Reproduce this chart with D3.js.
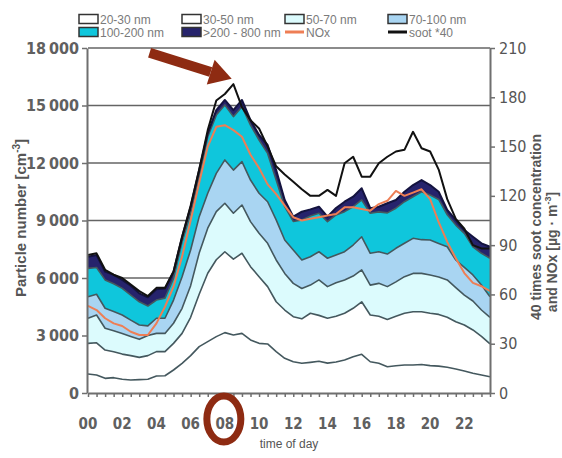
<!DOCTYPE html>
<html lang="en">
<head>
  <meta charset="UTF-8">
  <title>Particle number by size class over the day</title>
  <script src="https://d3js.org/d3.v7.min.js"></script>
  <style>
    body { margin: 0; background: #fff; }
    svg { display: block; }
  </style>
</head>
<body>
  <div id="chart"></div>
  <script>
    // time of day, half-hour steps
    const hours = [0, 0.5, 1, 1.5, 2, 2.5, 3, 3.5, 4, 4.5, 5, 5.5,
      6, 6.5, 7, 7.5, 8, 8.5, 9, 9.5, 10, 10.5, 11, 11.5,
      12, 12.5, 13, 13.5, 14, 14.5, 15, 15.5, 16, 16.5, 17, 17.5,
      18, 18.5, 19, 19.5, 20, 20.5, 21, 21.5, 22, 22.5, 23, 23.5];
    const hourTicks = [0, 2, 4, 6, 8, 10, 12, 14, 16, 18, 20, 22];
    const hourLabels = ["00", "02", "04", "06", "08", "10", "12", "14", "16", "18", "20", "22"];
    const leftTicks = [0, 3000, 6000, 9000, 12000, 15000, 18000];
    const rightTicks = [0, 30, 60, 90, 120, 150, 180, 210];

    // upper edge of each stacked size class [cm-3]
    const edge20_30 = [990, 940, 765, 800, 720, 680, 700, 720, 890, 900, 1200, 1550,
      1950, 2420, 2680, 2940, 3150, 3030, 3110, 2770, 2590, 2560, 2160, 1810,
      1630, 1550, 1600, 1660, 1560, 1620, 1720, 1890, 2020, 1630, 1550, 1370,
      1420, 1460, 1460, 1490, 1430, 1400, 1340, 1250, 1150, 1030, 940, 850];
    const edge30_50 = [2590, 2620, 2240, 2150, 2030, 1950, 1860, 1950, 2160, 2160, 2590, 3110,
      3950, 5150, 6250, 6950, 7370, 6980, 7290, 6590, 6070, 5550, 4760, 4330,
      3980, 3870, 4160, 4050, 3900, 4000, 4160, 4420, 4760, 4070, 4000, 3840,
      4000, 4160, 4240, 4240, 4160, 4100, 3950, 3720, 3550, 3290, 2950, 2560];
    const edge50_70 = [3900, 4070, 3380, 3250, 3110, 2950, 2800, 3000, 3110, 3110, 3640, 4420,
      5600, 7300, 8600, 9460, 9900, 9380, 9810, 8940, 8330, 7810, 6940, 6240,
      5720, 5450, 5630, 5900, 5550, 5750, 5900, 6100, 6420, 5630, 5720, 5550,
      5800, 6070, 6240, 6240, 6160, 6050, 5900, 5500, 5110, 4800, 4330, 3950];
    const edge70_100 = [5020, 5150, 4420, 4250, 4070, 3800, 3550, 3500, 3900, 3900, 4850, 6070,
      7460, 9200, 10420, 11460, 12160, 11630, 12070, 11110, 10420, 9980, 9030, 7980,
      7460, 6940, 7110, 7370, 7030, 7200, 7370, 7720, 8150, 7290, 7370, 7250,
      7550, 7810, 8070, 8000, 7980, 7800, 7630, 6940, 6550, 6160, 5630, 5020];
    const edge100_200 = [6500, 6550, 5900, 5700, 5460, 5110, 4760, 4540, 4850, 4950, 5980, 7890,
      9380, 11290, 13370, 14500, 15030, 14420, 14940, 13980, 13200, 12500, 11110, 9720,
      8950, 9030, 9230, 9380, 8940, 9290, 9460, 9720, 10070, 9380, 9450, 9400,
      9640, 9980, 10240, 10500, 10330, 10100, 9300, 8760, 8330, 7630, 7290, 7030];
    const edge200_800 = [7110, 7200, 6330, 6160, 5900, 5600, 5200, 4990, 5410, 5450, 6330, 8150,
      9720, 11630, 13550, 14760, 15290, 14760, 15290, 14240, 13460, 12940, 11630, 10070,
      9200, 9460, 9580, 9720, 9200, 9650, 9980, 10240, 10680, 9640, 9720, 9900,
      10070, 10500, 10850, 11110, 10850, 10500, 9550, 9030, 8500, 8150, 7810, 7630];

    // right axis series [µg m-3]
    const nox = [53, 50.5, 45.5, 42.4, 40.8, 37.3, 35.3, 35.3, 42.4, 52.5, 64.7, 83,
      105, 128, 150, 162, 163, 160, 156, 145, 137, 127, 121, 114,
      107, 105, 106, 107, 108, 109, 113, 113, 112, 111, 115, 117,
      123, 120, 122, 124, 118, 104, 92, 82, 73, 67, 65, 62];
    const soot40 = [84, 85, 75, 72, 70, 66, 62, 59, 64, 64, 74, 95,
      114, 136, 160, 178, 182, 188, 174, 166, 161, 150, 138, 133,
      128.6, 124, 120, 120, 123.6, 120, 139.8, 143.8, 131.7, 131.7, 139.8, 143.8,
      147, 148, 159, 149, 147, 136, 118, 106, 100, 90, 88, 88];

    const bandNames = ["20-30 nm", "30-50 nm", "50-70 nm", "70-100 nm", "100-200 nm", ">200 - 800 nm"];
    const bandEdges = [edge20_30, edge30_50, edge50_70, edge70_100, edge100_200, edge200_800];
    const bandColors = ["#ffffff", "#ffffff", "#dcfbfd", "#a9d5f2", "#0fc6dc", "#26236c"];

    const width = 562, height = 458;
    const narrow = '"Liberation Sans Narrow", "Arial Narrow", "DejaVu Sans Condensed", sans-serif';
    const sans = '"Liberation Sans", Arial, sans-serif';
    const brown = "#8e2b12";

    const svg = d3.select("#chart").append("svg")
      .attr("width", width)
      .attr("height", height);

    const x = d3.scaleLinear().domain([0, 23.5]).range([88, 490]);
    const yL = d3.scaleLinear().domain([0, 18000]).range([393, 48]);
    const yR = d3.scaleLinear().domain([0, 210]).range([393, 48]);

    // grid lines
    svg.append("g").selectAll("line")
      .data(leftTicks.slice(1))
      .enter().append("line")
      .attr("x1", x(0)).attr("x2", x(23.5))
      .attr("y1", d => yL(d)).attr("y2", d => yL(d))
      .attr("stroke", "#646464")
      .attr("stroke-width", 1.7);

    // stacked bands
    const rows = hours.map((h, i) => ({ h: h, i: i }));
    const bands = svg.append("g");
    bandEdges.forEach((edge, k) => {
      const below = k === 0 ? null : bandEdges[k - 1];
      const area = d3.area()
        .x(d => x(d.h))
        .y0(d => yL(below ? below[d.i] : 0))
        .y1(d => yL(edge[d.i]));
      bands.append("path")
        .datum(rows)
        .attr("d", area)
        .attr("fill", bandColors[k]);
    });

    // band borders
    bandEdges.forEach((edge, k) => {
      const line = d3.line().x(d => x(d.h)).y(d => yL(edge[d.i]));
      bands.append("path")
        .datum(rows)
        .attr("d", line)
        .attr("fill", "none")
        .attr("stroke", k === 5 ? "#14133f" : "#44585e")
        .attr("stroke-width", k === 5 ? 2 : 1.6)
        .attr("stroke-linejoin", "round");
    });

    // NOx and soot lines on right axis
    svg.append("path")
      .datum(rows)
      .attr("d", d3.line().x(d => x(d.h)).y(d => yR(nox[d.i])))
      .attr("fill", "none")
      .attr("stroke", "#ee7e55")
      .attr("stroke-width", 2)
      .attr("stroke-linejoin", "round");

    svg.append("path")
      .datum(rows)
      .attr("d", d3.line().x(d => x(d.h)).y(d => yR(soot40[d.i])))
      .attr("fill", "none")
      .attr("stroke", "#111")
      .attr("stroke-width", 2)
      .attr("stroke-linejoin", "round");

    // axes
    const fmt = d3.formatLocale({ decimal: ".", thousands: "\u2009", grouping: [3], currency: ["", ""] }).format(",d");

    const leftAxis = svg.append("g")
      .attr("transform", `translate(${x(0) - 1},0)`)
      .call(d3.axisLeft(yL).tickValues(leftTicks).tickSize(5).tickSizeOuter(0).tickPadding(3).tickFormat(fmt));

    const rightAxis = svg.append("g")
      .attr("transform", `translate(${x(23.5)},0)`)
      .call(d3.axisRight(yR).tickValues(rightTicks).tickSize(5).tickSizeOuter(0).tickPadding(4));

    const bottomAxis = svg.append("g")
      .attr("transform", `translate(0,${yL(0)})`)
      .call(d3.axisBottom(x).tickValues(hours).tickSize(4).tickSizeOuter(0).tickFormat(""));

    [leftAxis, rightAxis, bottomAxis].forEach(g => {
      g.select(".domain").attr("stroke", "#6f6f6f").attr("stroke-width", 2);
      g.selectAll(".tick line").attr("stroke", "#6f6f6f").attr("stroke-width", 1.5);
      g.selectAll("text")
        .attr("font-family", narrow)
        .attr("font-size", 16)
        .attr("font-weight", "bold")
        .attr("fill", "#606060");
    });
    rightAxis.selectAll("text").attr("font-weight", "normal").attr("fill", "#555");

    // hour labels
    svg.append("g").selectAll("text")
      .data(hourTicks)
      .enter().append("text")
      .attr("x", d => x(d))
      .attr("y", 429)
      .attr("text-anchor", "middle")
      .attr("font-family", narrow)
      .attr("font-size", 15)
      .attr("font-weight", "bold")
      .attr("fill", "#606060")
      .text((d, i) => hourLabels[i]);

    // axis titles
    svg.append("text")
      .attr("x", 289).attr("y", 448)
      .attr("text-anchor", "middle")
      .attr("font-family", sans)
      .attr("font-size", 12)
      .attr("fill", "#555")
      .text("time of day");

    const leftTitle = svg.append("text")
      .attr("transform", "translate(26,218) rotate(-90)")
      .attr("text-anchor", "middle")
      .attr("font-family", sans)
      .attr("font-size", 15)
      .attr("font-weight", "bold")
      .attr("fill", "#555")
      .text("Particle number [cm");
    leftTitle.append("tspan").attr("font-size", 10).attr("dy", -6).text("-3");
    leftTitle.append("tspan").attr("dy", 6).text("]");

    svg.append("text")
      .attr("transform", "translate(541,227) rotate(-90)")
      .attr("text-anchor", "middle")
      .attr("font-family", sans)
      .attr("font-size", 14)
      .attr("font-weight", "bold")
      .attr("fill", "#555")
      .text("40 times soot concentration");

    const rightTitle2 = svg.append("text")
      .attr("transform", "translate(557,252) rotate(-90)")
      .attr("text-anchor", "middle")
      .attr("font-family", sans)
      .attr("font-size", 14)
      .attr("font-weight", "bold")
      .attr("fill", "#555")
      .text("and NOx [µg · m");
    rightTitle2.append("tspan").attr("font-size", 9).attr("dy", -6).text("-3");
    rightTitle2.append("tspan").attr("dy", 6).text("]");

    // legend
    const legendItems = [
      { name: bandNames[0], type: "box", color: bandColors[0] },
      { name: bandNames[1], type: "box", color: bandColors[1] },
      { name: bandNames[2], type: "box", color: bandColors[2] },
      { name: bandNames[3], type: "box", color: bandColors[3] },
      { name: bandNames[4], type: "box", color: bandColors[4] },
      { name: bandNames[5], type: "box", color: bandColors[5] },
      { name: "NOx", type: "line", color: "#ee7e55" },
      { name: "soot *40", type: "line", color: "#111" }
    ];
    const legendCols = [79, 182, 285, 388];
    const legendRows = [19, 32];
    const legend = svg.append("g").selectAll("g")
      .data(legendItems)
      .enter().append("g")
      .attr("transform", (d, i) => `translate(${legendCols[i % 4]},${legendRows[Math.floor(i / 4)]})`);
    legend.filter(d => d.type === "box").append("rect")
      .attr("x", 0).attr("y", -4.5)
      .attr("width", 19).attr("height", 9)
      .attr("fill", d => d.color)
      .attr("stroke", "#333")
      .attr("stroke-width", 1.5);
    legend.filter(d => d.type === "line").append("line")
      .attr("x1", 0).attr("x2", 19)
      .attr("y1", 0).attr("y2", 0)
      .attr("stroke", d => d.color)
      .attr("stroke-width", 3);
    legend.append("text")
      .attr("x", 21).attr("y", 4.5)
      .attr("font-family", sans)
      .attr("font-size", 12)
      .attr("fill", "#7a7a7a")
      .text(d => d.name);

    // highlight: arrow toward the morning peak
    const p0 = [x(3.6), yL(17750)];
    const p1 = [x(8.4), yL(16400)];
    const ang = Math.atan2(p1[1] - p0[1], p1[0] - p0[0]);
    const headLen = 22, headHalf = 13;
    const base = [p1[0] - headLen * Math.cos(ang), p1[1] - headLen * Math.sin(ang)];
    svg.append("line")
      .attr("x1", p0[0]).attr("y1", p0[1])
      .attr("x2", base[0]).attr("y2", base[1])
      .attr("stroke", brown)
      .attr("stroke-width", 10);
    svg.append("path")
      .attr("d", d3.line()([
        p1,
        [base[0] + headHalf * Math.sin(ang), base[1] - headHalf * Math.cos(ang)],
        [base[0] - headHalf * Math.sin(ang), base[1] + headHalf * Math.cos(ang)]
      ]) + "Z")
      .attr("fill", brown);

    // circle round the 08 label
    svg.append("ellipse")
      .attr("cx", x(8) - 1).attr("cy", 419)
      .attr("rx", 17).attr("ry", 23)
      .attr("fill", "none")
      .attr("stroke", brown)
      .attr("stroke-width", 7);
  </script>
</body>
</html>
